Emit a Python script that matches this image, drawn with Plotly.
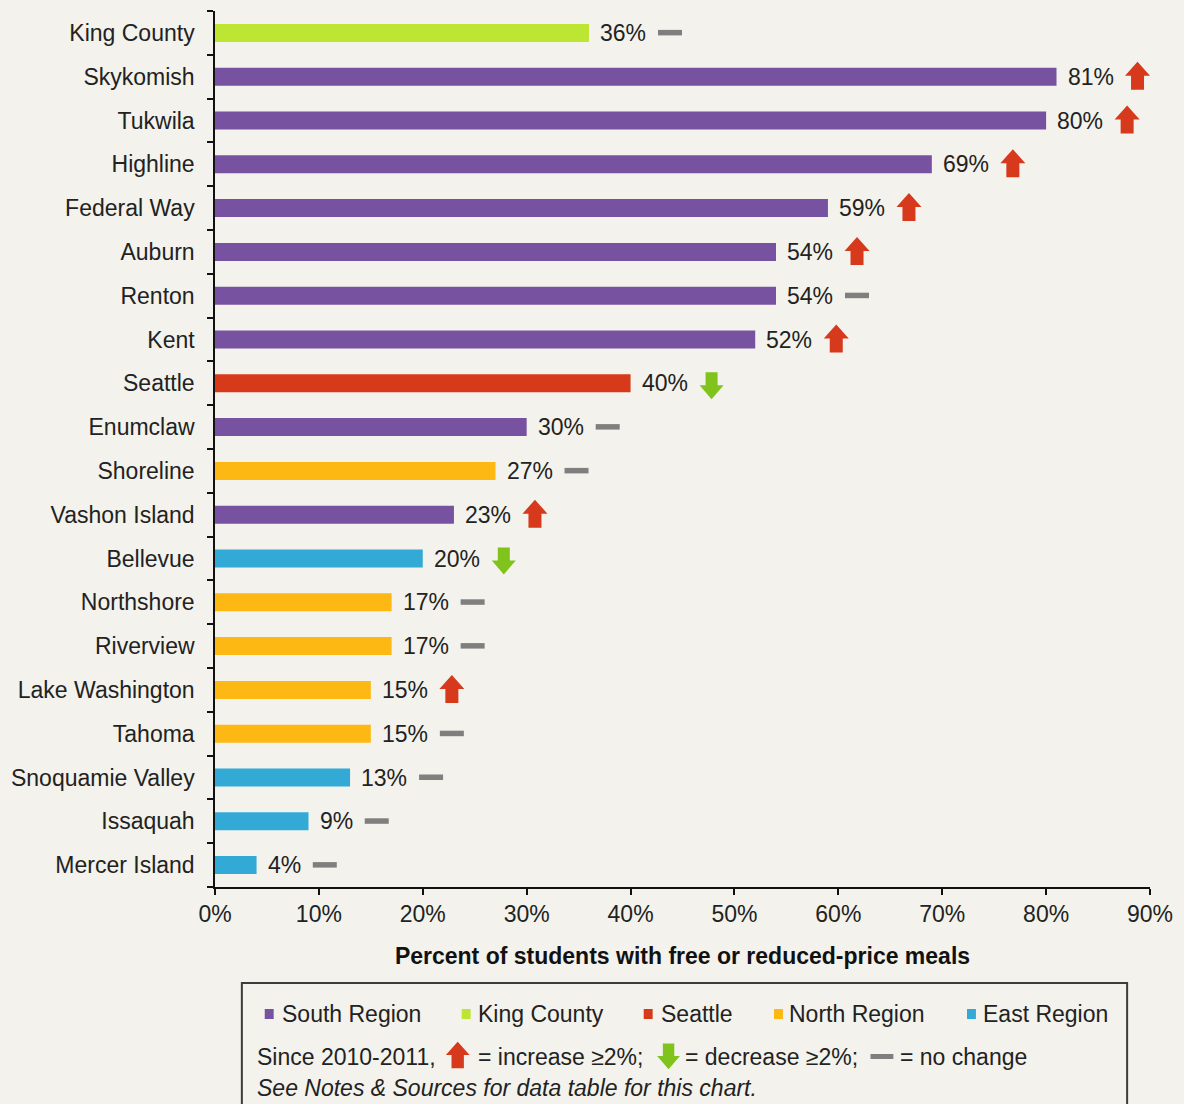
import plotly.graph_objects as go

# ---------------- data ----------------
districts = ["King County", "Skykomish", "Tukwila", "Highline", "Federal Way", "Auburn",
             "Renton", "Kent", "Seattle", "Enumclaw", "Shoreline", "Vashon Island",
             "Bellevue", "Northshore", "Riverview", "Lake Washington", "Tahoma",
             "Snoquamie Valley", "Issaquah", "Mercer Island"]
values = [36, 81, 80, 69, 59, 54, 54, 52, 40, 30, 27, 23, 20, 17, 17, 15, 15, 13, 9, 4]
regions = ["King County", "South Region", "South Region", "South Region", "South Region",
           "South Region", "South Region", "South Region", "Seattle", "South Region",
           "North Region", "South Region", "East Region", "North Region", "North Region",
           "North Region", "North Region", "East Region", "East Region", "East Region"]
trend = ["same", "up", "up", "up", "up", "up", "same", "up", "down", "same",
         "same", "up", "down", "same", "same", "up", "same", "same", "same", "same"]
legend_order = ["South Region", "King County", "Seattle", "North Region", "East Region"]
x_ticks = [0, 10, 20, 30, 40, 50, 60, 70, 80, 90]

# ---------------- styles ----------------
region_colors = {"South Region": "#7652a0", "King County": "#bde632", "Seattle": "#d63a1a",
                 "North Region": "#fdb814", "East Region": "#33aad6"}
UP_COLOR = "#d6391b"
DOWN_COLOR = "#7fc31c"
SAME_COLOR = "#7f7f7f"
BG = "#f3f2ec"
TXT = "#222222"
FONT = "Liberation Sans, Arial, sans-serif"
FS = 23

ML, MR, MT, MB = 214, 30, 11, 217
W, H = 1184, 1104
PW, PH = W - ML - MR, H - MT - MB


def px(x):
    return (x - ML) / PW


def py(y):
    return (MT + PH - y) / PH


def up_path(cx, s=1.0):
    return (f"M{cx-12.5*s},{1*s} L{cx},{15*s} L{cx+12.5*s},{1*s} L{cx+6.5*s},{1*s} "
            f"L{cx+6.5*s},{-13*s} L{cx-6.5*s},{-13*s} L{cx-6.5*s},{1*s} Z")


def down_path(cx, s=1.0):
    return (f"M{cx-12*s},{-2*s} L{cx},{-16*s} L{cx+12*s},{-2*s} L{cx+6*s},{-2*s} "
            f"L{cx+6*s},{11*s} L{cx-6*s},{11*s} L{cx-6*s},{-2*s} Z")


idx = list(range(len(districts)))
labels = [f"{v}%" for v in values]

fig = go.Figure()
fig.add_trace(go.Bar(
    x=values, y=idx, orientation="h", width=0.41,
    marker=dict(color=[region_colors[r] for r in regions], line=dict(width=0)),
    hoverinfo="skip", showlegend=False,
))

shapes = []
annotations = []

# value labels and change indicators
for i, (v, lab, t) in enumerate(zip(values, labels, trend)):
    annotations.append(dict(x=v, y=i, xref="x", yref="y", text=lab, showarrow=False,
                            xanchor="left", yanchor="middle", xshift=9,
                            font=dict(family=FONT, size=FS, color=TXT)))
    text_w = (len(lab) - 1) * 0.556 * FS + 0.889 * FS
    cx = 12 + text_w + 23
    if t == "up":
        shapes.append(dict(type="path", xref="x", yref="y", xsizemode="pixel", ysizemode="pixel",
                           xanchor=v, yanchor=i, path=up_path(cx),
                           fillcolor=UP_COLOR, line=dict(width=0)))
    elif t == "down":
        shapes.append(dict(type="path", xref="x", yref="y", xsizemode="pixel", ysizemode="pixel",
                           xanchor=v, yanchor=i, path=down_path(cx),
                           fillcolor=DOWN_COLOR, line=dict(width=0)))
    else:
        shapes.append(dict(type="rect", xref="x", yref="y", xsizemode="pixel", ysizemode="pixel",
                           xanchor=v, yanchor=i, x0=cx - 12, x1=cx + 12, y0=-2.5, y1=3,
                           fillcolor=SAME_COLOR, line=dict(width=0)))

# ---------------- legend box ----------------
shapes.append(dict(type="rect", xref="paper", yref="paper",
                   x0=px(241), x1=px(1131), y0=py(1125), y1=py(983),
                   line=dict(color="#3c3c3c", width=2), fillcolor="rgba(0,0,0,0)"))

sq_x = [264, 462, 645, 776, 970]
txt_x = [281, 478, 662, 791, 986]
row1 = 1014
for name, sx, tx in zip(legend_order, sq_x, txt_x):
    shapes.append(dict(type="rect", xref="paper", yref="paper",
                       x0=px(sx), x1=px(sx + 9), y0=py(row1 + 5), y1=py(row1 - 5),
                       fillcolor=region_colors[name], line=dict(width=0)))
    annotations.append(dict(x=px(tx - 2), y=py(row1), xref="paper", yref="paper", text=name,
                            showarrow=False, xanchor="left", yanchor="middle",
                            font=dict(family=FONT, size=FS, color=TXT)))

row2 = 1057
annotations.append(dict(x=px(254), y=py(row2), xref="paper", yref="paper",
                        text="Since 2010-2011,", showarrow=False, xanchor="left", yanchor="middle",
                        font=dict(family=FONT, size=FS, color=TXT)))
shapes.append(dict(type="path", xref="paper", yref="paper", xsizemode="pixel", ysizemode="pixel",
                   xanchor=px(458), yanchor=py(row2 - 1), path=up_path(0, 0.95),
                   fillcolor=UP_COLOR, line=dict(width=0)))
annotations.append(dict(x=px(476), y=py(row2), xref="paper", yref="paper",
                        text="= increase \u22652%;", showarrow=False, xanchor="left", yanchor="middle",
                        font=dict(family=FONT, size=FS, color=TXT)))
shapes.append(dict(type="path", xref="paper", yref="paper", xsizemode="pixel", ysizemode="pixel",
                   xanchor=px(670), yanchor=py(row2 - 3), path=down_path(0, 0.95),
                   fillcolor=DOWN_COLOR, line=dict(width=0)))
annotations.append(dict(x=px(685), y=py(row2), xref="paper", yref="paper",
                        text="= decrease \u22652%;", showarrow=False, xanchor="left", yanchor="middle",
                        font=dict(family=FONT, size=FS, color=TXT)))
shapes.append(dict(type="rect", xref="paper", yref="paper",
                   x0=px(873), x1=px(896), y0=py(row2 + 2), y1=py(row2 - 3),
                   fillcolor=SAME_COLOR, line=dict(width=0)))
annotations.append(dict(x=px(901), y=py(row2), xref="paper", yref="paper",
                        text="= no change", showarrow=False, xanchor="left", yanchor="middle",
                        font=dict(family=FONT, size=FS, color=TXT)))
annotations.append(dict(x=px(254), y=py(1088), xref="paper", yref="paper",
                        text="<i>See Notes &amp; Sources for data table for this chart.</i>",
                        showarrow=False, xanchor="left", yanchor="middle",
                        font=dict(family=FONT, size=FS, color=TXT)))

fig.update_layout(
    width=W, height=H,
    margin=dict(l=ML, r=MR, t=MT, b=MB, pad=0),
    paper_bgcolor=BG, plot_bgcolor=BG,
    font=dict(family=FONT, size=FS, color=TXT),
    showlegend=False,
    shapes=shapes, annotations=annotations,
    xaxis=dict(range=[0, 90], tickmode="array", tickvals=x_ticks,
               ticktext=[f"{t}%" for t in x_ticks],
               showline=True, linecolor="#111111", linewidth=1.5,
               ticks="outside", ticklen=6, tickwidth=1.5, tickcolor="#111111",
               ticklabelstandoff=0,
               showgrid=False, zeroline=False,
               tickfont=dict(family=FONT, size=FS, color=TXT),
               title=dict(text="<b>Percent of students with free or reduced-price meals</b>",
                          font=dict(family=FONT, size=FS, color="#111111"), standoff=22)),
    yaxis=dict(range=[len(districts) - 0.5, -0.5], tickmode="array", tickvals=idx,
               ticktext=districts, ticks="", showline=True, linecolor="#111111", linewidth=1.5,
               ticklabelstandoff=14, showgrid=False, zeroline=False,
               tickfont=dict(family=FONT, size=FS, color=TXT),
               minor=dict(tickmode="array", tickvals=[i - 0.5 for i in range(len(districts) + 1)],
                          ticks="outside", ticklen=6, tickwidth=1.5, tickcolor="#111111",
                          showgrid=False)),
)

fig.write_html("out.html", config={"displayModeBar": False},
               post_script="document.body.style.margin='0';")
